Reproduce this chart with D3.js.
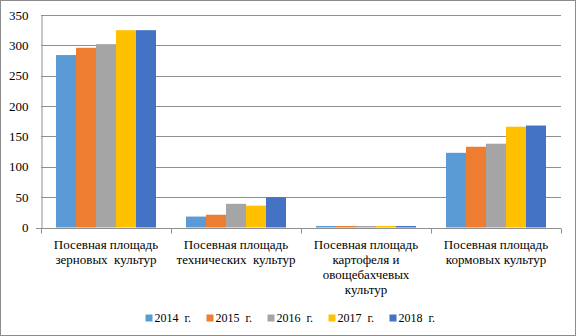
<!DOCTYPE html>
<html>
<head>
<meta charset="utf-8">
<script src="https://cdn.jsdelivr.net/npm/d3@7"></script>
<style>
  body { margin: 0; background: #fff; }
  svg { display: block; }
</style>
</head>
<body>
<svg id="chart" width="576" height="336"></svg>
<script>
// Посевные площади по группам культур, 2014–2018 гг.
const categories = [
  ["Посевная площадь", "зерновых  культур"],
  ["Посевная площадь", "технических  культур"],
  ["Посевная площадь", "картофеля и", "овощебахчевых", "культур"],
  ["Посевная площадь", "кормовых культур"]
];
const years = ["2014  г.", "2015  г.", "2016  г.", "2017  г.", "2018  г."];
const values2014 = [284, 18, 2.5, 123];
const values2015 = [296, 21, 2.5, 133];
const values2016 = [302, 39, 2.5, 138];
const values2017 = [325, 36, 2.5, 166];
const values2018 = [325, 50, 2.5, 168];
const yTicks = [0, 50, 100, 150, 200, 250, 300, 350];
const colors = ["#5B9BD5", "#ED7D31", "#A5A5A5", "#FFC000", "#4472C4"];

const series = [values2014, values2015, values2016, values2017, values2018];
const FONT = "'Liberation Serif', 'Times New Roman', serif";

const svg = d3.select("#chart");
const W = 576, H = 336;
const plotLeft = 41, plotRight = 561, plotTop = 15, plotBottom = 227.5;

// outer frame
svg.append("rect")
  .attr("x", 0.5).attr("y", 0.5)
  .attr("width", W - 1).attr("height", H - 1)
  .attr("fill", "#fff").attr("stroke", "#8c8c8c");

const x = d3.scaleBand().domain(d3.range(categories.length)).range([plotLeft, plotRight]).padding(0);
const xi = d3.scaleBand().domain(d3.range(years.length)).range([0, x.bandwidth()])
  .paddingInner(0).paddingOuter(0.75);
const y = d3.scaleLinear().domain([0, 350]).range([plotBottom, plotTop]);

// gridlines
svg.append("g").selectAll("line")
  .data(yTicks.filter(d => d > 0))
  .join("line")
  .attr("x1", plotLeft).attr("x2", plotRight)
  .attr("y1", d => Math.round(y(d)) + 0.5).attr("y2", d => Math.round(y(d)) + 0.5)
  .attr("stroke", "#8f8f8f").attr("stroke-width", 1);

// y axis
const yAxis = svg.append("g")
  .attr("transform", `translate(${plotLeft + 0.5},0)`)
  .call(d3.axisLeft(y).tickValues(yTicks).tickSize(0).tickPadding(13))
  .attr("font-family", FONT)
  .attr("font-size", 13);
yAxis.select(".domain").attr("stroke", "#8f8f8f");
yAxis.selectAll("text").attr("fill", "#000");

// bars
categories.forEach((c, ci) => {
  const g = svg.append("g").attr("transform", `translate(${x(ci)},0)`);
  g.selectAll("rect")
    .data(series.map((s, si) => ({ si, v: s[ci] })))
    .join("rect")
    .attr("x", d => xi(d.si))
    .attr("width", xi.bandwidth())
    .attr("y", d => y(d.v))
    .attr("height", d => y(0) - y(d.v))
    .attr("fill", d => colors[d.si]);
});

// x axis line with category separators
const xAxisY = Math.round(y(0)) + 0.5;
svg.append("line")
  .attr("x1", plotLeft - 5).attr("x2", plotRight)
  .attr("y1", xAxisY).attr("y2", xAxisY)
  .attr("stroke", "#8f8f8f");
svg.append("g").selectAll("line")
  .data(d3.range(categories.length + 1))
  .join("line")
  .attr("x1", i => Math.round(plotLeft + i * x.bandwidth()) + 0.5)
  .attr("x2", i => Math.round(plotLeft + i * x.bandwidth()) + 0.5)
  .attr("y1", xAxisY).attr("y2", xAxisY + 5)
  .attr("stroke", "#8f8f8f");

// category labels
categories.forEach((lines, ci) => {
  const t = svg.append("text")
    .attr("x", x(ci) + x.bandwidth() / 2)
    .attr("y", 249)
    .attr("text-anchor", "middle")
    .attr("font-family", FONT)
    .attr("font-size", 13)
    .style("white-space", "pre");
  lines.forEach((ln, li) => {
    t.append("tspan")
      .attr("x", x(ci) + x.bandwidth() / 2)
      .attr("dy", li === 0 ? 0 : 15)
      .text(ln);
  });
});

// legend
const legendStep = 61, legendStart = 145.5;
const legend = svg.append("g").attr("font-family", FONT).attr("font-size", 12);
years.forEach((yr, i) => {
  const lx = legendStart + i * legendStep;
  legend.append("rect")
    .attr("x", lx).attr("y", 314.5)
    .attr("width", 7).attr("height", 7)
    .attr("fill", colors[i]);
  legend.append("text")
    .attr("x", lx + 9).attr("y", 322)
    .style("white-space", "pre")
    .text(yr);
});
</script>
</body>
</html>
